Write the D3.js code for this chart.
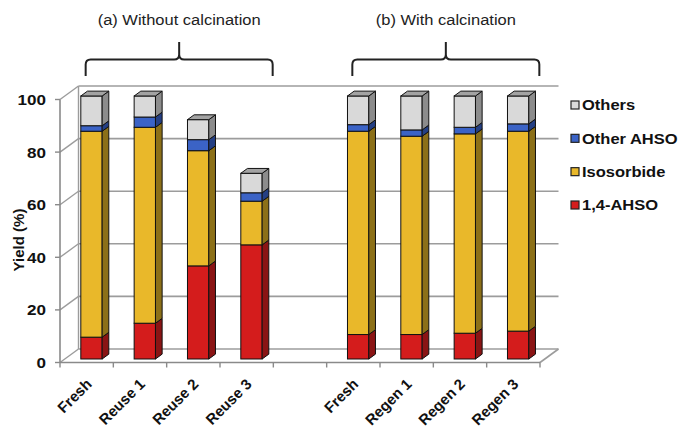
<!DOCTYPE html>
<html>
<head>
<meta charset="utf-8">
<script src="https://cdn.jsdelivr.net/npm/d3@7/dist/d3.min.js"></script>
<style>
  html, body { margin: 0; padding: 0; background: #fff; }
  svg { display: block; font-family: "Liberation Sans", Arial, sans-serif; }
</style>
</head>
<body>
<svg id="chart" width="679" height="429"></svg>
<script>
// ---------- data ----------
const slots = ["a:Fresh", "a:Reuse 1", "a:Reuse 2", "a:Reuse 3", "gap",
               "b:Fresh", "b:Regen 1", "b:Regen 2", "b:Regen 3"];
const categories = ["a:Fresh", "a:Reuse 1", "a:Reuse 2", "a:Reuse 3",
                    "b:Fresh", "b:Regen 1", "b:Regen 2", "b:Regen 3"];
const catLabels = ["Fresh", "Reuse 1", "Reuse 2", "Reuse 3",
                   "Fresh", "Regen 1", "Regen 2", "Regen 3"];
const seriesNames = ["1,4-AHSO", "Isosorbide", "Other AHSO", "Others"];
const ahso14     = [8.3, 13.6, 35.4, 43.4, 9.3, 9.3, 9.8, 10.6];
const isosorbide = [78.3, 74.5, 43.8, 16.6, 77.3, 75.4, 75.8, 76.0];
const otherAhso  = [2.1, 3.9, 4.2, 3.2, 2.5, 2.4, 2.5, 2.8];
const others     = [11.3, 8.0, 7.6, 7.4, 10.9, 12.9, 11.9, 10.6];
const yTicks = [0, 20, 40, 60, 80, 100];
const groups = [
  { title: "(a) Without calcination", first: "a:Fresh", last: "a:Reuse 3" },
  { title: "(b) With calcination",    first: "b:Fresh", last: "b:Regen 3" }
];

// ---------- styles ----------
const colors = {
  "1,4-AHSO":   { front: "#d41c1c", side: "#8a1414", top: "#a81818" },
  "Isosorbide": { front: "#e9b82a", side: "#8c7018", top: "#b48f22" },
  "Other AHSO": { front: "#3b63c6", side: "#243f84", top: "#2e51a4" },
  "Others":     { front: "#d9d9d9", side: "#8c8c8c", top: "#a3a3a3" }
};
const DX = 18.5, DY = -13.5;       // depth of the 3D box
const F0 = 0.26, F1 = 0.62;        // bar depth fractions
const STRETCH = 1.1;

const svg = d3.select("#chart");
const x = d3.scaleBand().domain(slots).range([60, 540]).paddingInner(0).paddingOuter(0);
const y = d3.scaleLinear().domain([0, 100]).range([362.5, 99.5]);
const xc = k => x(k) + x.bandwidth() / 2;

const gridColor = "#9c9c9c";

// ---------- back wall gridlines ----------
svg.append("g").selectAll("line").data(yTicks).join("line")
  .attr("x1", 60 + DX).attr("x2", 540 + DX)
  .attr("y1", d => y(d) + DY).attr("y2", d => y(d) + DY)
  .attr("stroke", gridColor).attr("stroke-width", 1.6);
// side wall diagonals
svg.append("g").selectAll("line").data(yTicks).join("line")
  .attr("x1", 60).attr("x2", 60 + DX)
  .attr("y1", d => y(d)).attr("y2", d => y(d) + DY)
  .attr("stroke", gridColor).attr("stroke-width", 1.4);
// back wall left edge
svg.append("line")
  .attr("x1", 60 + DX).attr("x2", 60 + DX)
  .attr("y1", y(0) + DY).attr("y2", y(100) + DY)
  .attr("stroke", gridColor).attr("stroke-width", 1.4);
// floor right edge
svg.append("line")
  .attr("x1", 540).attr("x2", 540 + DX)
  .attr("y1", y(0)).attr("y2", y(0) + DY)
  .attr("stroke", gridColor).attr("stroke-width", 1.6);

// ---------- axes (front) ----------
const axisColor = "#8a8a8a";
svg.append("line").attr("x1", 60).attr("x2", 60).attr("y1", y(0)).attr("y2", y(100))
  .attr("stroke", axisColor).attr("stroke-width", 1.6);
svg.append("g").selectAll("line").data(yTicks).join("line")
  .attr("x1", 55).attr("x2", 60).attr("y1", d => y(d)).attr("y2", d => y(d))
  .attr("stroke", axisColor).attr("stroke-width", 1.4);
svg.append("line").attr("x1", 60).attr("x2", 540).attr("y1", y(0)).attr("y2", y(0))
  .attr("stroke", axisColor).attr("stroke-width", 1.6);
const xTickPos = slots.map(s => x(s)).concat([540]);
svg.append("g").selectAll("line").data(xTickPos).join("line")
  .attr("x1", d => d).attr("x2", d => d).attr("y1", y(0)).attr("y2", y(0) + 5)
  .attr("stroke", axisColor).attr("stroke-width", 1.4);

// y tick labels
svg.append("g").selectAll("text").data(yTicks).join("text")
  .attr("transform", d => `translate(46,${y(d)}) scale(${STRETCH},1)`)
  .attr("dy", "0.36em").attr("text-anchor", "end")
  .attr("font-size", 15.5).attr("font-weight", "bold").attr("fill", "#111")
  .text(d => d);

// y title
svg.append("text")
  .attr("transform", `translate(24,240) rotate(-90)`)
  .attr("text-anchor", "middle").attr("font-size", 15).attr("font-weight", "bold")
  .attr("fill", "#111").text("Yield (%)");

// x labels
svg.append("g").selectAll("text").data(categories).join("text")
  .attr("transform", d => `translate(${xc(d) + 6},385) rotate(-45)`)
  .attr("text-anchor", "end").attr("font-size", 15).attr("font-weight", "bold")
  .attr("fill", "#111").text((d, i) => catLabels[i]);

// ---------- bars ----------
const seriesVals = [ahso14, isosorbide, otherAhso, others];
const stackData = categories.map((c, i) => {
  const o = { cat: c };
  seriesNames.forEach((s, j) => o[s] = seriesVals[j][i]);
  return o;
});
const stacked = d3.stack().keys(seriesNames)(stackData);
const barW = x.bandwidth() * 0.4;
const bdx = (F1 - F0) * DX, bdy = (F1 - F0) * DY;

const barsG = svg.append("g");
categories.forEach((c, i) => {
  const g = barsG.append("g");
  const x0 = xc(c) - barW / 2 + F0 * DX;
  const oy = F0 * DY;
  stacked.forEach((layer, j) => {
    const seg = layer[i];
    const col = colors[layer.key];
    const yb = y(seg[0]) + oy, yt = y(seg[1]) + oy;
    // front
    g.append("rect").attr("x", x0).attr("y", yt).attr("width", barW).attr("height", yb - yt)
      .attr("fill", col.front).attr("stroke", "#111").attr("stroke-width", 1);
    // side
    g.append("path")
      .attr("d", `M${x0 + barW},${yb} L${x0 + barW + bdx},${yb + bdy} L${x0 + barW + bdx},${yt + bdy} L${x0 + barW},${yt} Z`)
      .attr("fill", col.side).attr("stroke", "#111").attr("stroke-width", 1).attr("stroke-linejoin", "round");
    if (j === stacked.length - 1) {
      g.append("path")
        .attr("d", `M${x0},${yt} L${x0 + bdx},${yt + bdy} L${x0 + barW + bdx},${yt + bdy} L${x0 + barW},${yt} Z`)
        .attr("fill", col.top).attr("stroke", "#111").attr("stroke-width", 1).attr("stroke-linejoin", "round");
    }
  });
});

// ---------- group titles and braces ----------
groups.forEach(gp => {
  const L = xc(gp.first) - 1, R = xc(gp.last) + 26, C = (L + R) / 2;
  const yh = 59.5, yb = 76, yp = 42, r = 5;
  const p = `M${L},${yb} L${L},${yh + r} Q${L},${yh} ${L + r},${yh} L${C - r},${yh} Q${C},${yh} ${C},${yh - r} L${C},${yp}` +
            ` M${C},${yh - r} Q${C},${yh} ${C + r},${yh} L${R - r},${yh} Q${R},${yh} ${R},${yh + r} L${R},${yb}`;
  svg.append("path").attr("d", p).attr("fill", "none").attr("stroke", "#222").attr("stroke-width", 2);
  svg.append("text").attr("transform", `translate(${C},25) scale(${STRETCH},1)`)
    .attr("text-anchor", "middle").attr("font-size", 15).attr("fill", "#222").text(gp.title);
});

// ---------- legend ----------
const legendOrder = ["Others", "Other AHSO", "Isosorbide", "1,4-AHSO"];
const legendY = d3.scalePoint().domain(legendOrder).range([105, 205]);
const lg = svg.append("g").selectAll("g").data(legendOrder).join("g")
  .attr("transform", d => `translate(571,${legendY(d)})`);
lg.append("rect").attr("x", 0).attr("y", -4).attr("width", 8).attr("height", 8)
  .attr("fill", d => colors[d].front).attr("stroke", "#222").attr("stroke-width", 1.2);
lg.append("text").attr("transform", `translate(11,0) scale(${STRETCH},1)`)
  .attr("dy", "0.36em").attr("font-size", 15).attr("font-weight", "bold").attr("fill", "#111")
  .text(d => d);
</script>
</body>
</html>
